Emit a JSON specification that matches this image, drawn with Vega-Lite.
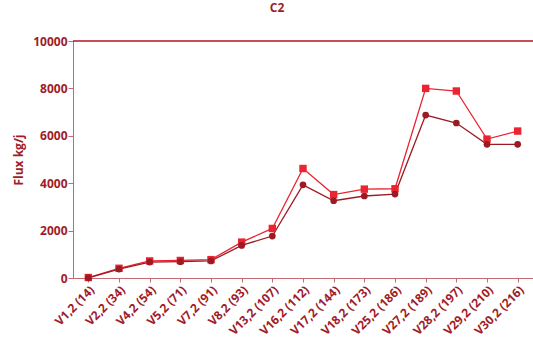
{
  "$schema": "https://vega.github.io/schema/vega-lite/v6.json",
  "width": 460,
  "height": 237,
  "autosize": {"type": "none"},
  "padding": {"left": 73, "top": 41, "right": 0, "bottom": 66},
  "title": {"text": "C2", "font": "Open Sans", "fontSize": 12, "fontWeight": "bold", "color": "#a01c28", "offset": 20, "dx": -26},
  "config": {"view": {"stroke": null}, "font": "Open Sans"},
  "data": {"values": [
    {"cat": "V1,2 (14)", "series": "A", "value": 20},
    {"cat": "V2,2 (34)", "series": "A", "value": 410},
    {"cat": "V4,2 (54)", "series": "A", "value": 720},
    {"cat": "V5,2 (71)", "series": "A", "value": 740},
    {"cat": "V7,2 (91)", "series": "A", "value": 775},
    {"cat": "V8,2 (93)", "series": "A", "value": 1515},
    {"cat": "V13,2 (107)", "series": "A", "value": 2090},
    {"cat": "V16,2 (112)", "series": "A", "value": 4620},
    {"cat": "V17,2 (144)", "series": "A", "value": 3520},
    {"cat": "V18,2 (173)", "series": "A", "value": 3750},
    {"cat": "V25,2 (186)", "series": "A", "value": 3765},
    {"cat": "V27,2 (189)", "series": "A", "value": 8000},
    {"cat": "V28,2 (197)", "series": "A", "value": 7890},
    {"cat": "V29,2 (210)", "series": "A", "value": 5860},
    {"cat": "V30,2 (216)", "series": "A", "value": 6200},
    {"cat": "V1,2 (14)", "series": "B", "value": 10},
    {"cat": "V2,2 (34)", "series": "B", "value": 375},
    {"cat": "V4,2 (54)", "series": "B", "value": 670},
    {"cat": "V5,2 (71)", "series": "B", "value": 690},
    {"cat": "V7,2 (91)", "series": "B", "value": 720},
    {"cat": "V8,2 (93)", "series": "B", "value": 1375},
    {"cat": "V13,2 (107)", "series": "B", "value": 1770},
    {"cat": "V16,2 (112)", "series": "B", "value": 3930},
    {"cat": "V17,2 (144)", "series": "B", "value": 3260},
    {"cat": "V18,2 (173)", "series": "B", "value": 3460},
    {"cat": "V25,2 (186)", "series": "B", "value": 3540},
    {"cat": "V27,2 (189)", "series": "B", "value": 6875},
    {"cat": "V28,2 (197)", "series": "B", "value": 6540},
    {"cat": "V29,2 (210)", "series": "B", "value": 5640},
    {"cat": "V30,2 (216)", "series": "B", "value": 5640}
  ]},
  "encoding": {
    "x": {
      "field": "cat", "type": "ordinal", "sort": null,
      "scale": {"type": "point", "padding": 0.5},
      "axis": {"title": null, "labelAngle": -45, "labelFont": "Open Sans", "labelFontSize": 12, "labelFontWeight": "bold", "labelColor": "#a01c28", "domainColor": "#c46a70", "tickColor": "#c46a70", "tickSize": 4, "labelPadding": 2, "labelAlign": "right", "labelBaseline": "top"}
    },
    "y": {
      "field": "value", "type": "quantitative",
      "scale": {"domain": [0, 10000], "nice": false},
      "axis": {"title": "Flux kg/j", "format": "d", "titleFont": "Open Sans", "titleFontSize": 12, "titleFontWeight": "bold", "titleColor": "#a01c28", "titlePadding": 7, "values": [0, 2000, 4000, 6000, 8000, 10000], "grid": false, "labelFont": "Open Sans", "labelFontSize": 12, "labelFontWeight": "bold", "labelColor": "#a01c28", "domainColor": "#c46a70", "tickColor": "#c46a70", "tickSize": 5, "labelPadding": 1}
    },
    "color": {"field": "series", "type": "nominal", "scale": {"domain": ["A", "B"], "range": ["#ea2430", "#9c1a24"]}, "legend": null}
  },
  "layer": [
    {"mark": {"type": "rule", "color": "#b0141e", "strokeWidth": 1.5}, "data": {"values": [{"top": 10000}]}, "encoding": {"y": {"field": "top", "type": "quantitative"}, "x": null, "color": null}},
    {"mark": {"type": "line", "strokeWidth": 1.3}, "encoding": {"detail": {"field": "series"}}},
    {"mark": {"type": "point", "filled": true, "opacity": 1}, "encoding": {
      "shape": {"field": "series", "type": "nominal", "scale": {"domain": ["A", "B"], "range": ["square", "circle"]}, "legend": null},
      "size": {"field": "series", "type": "nominal", "scale": {"domain": ["A", "B"], "range": [55, 45]}, "legend": null}
    }}
  ]
}
